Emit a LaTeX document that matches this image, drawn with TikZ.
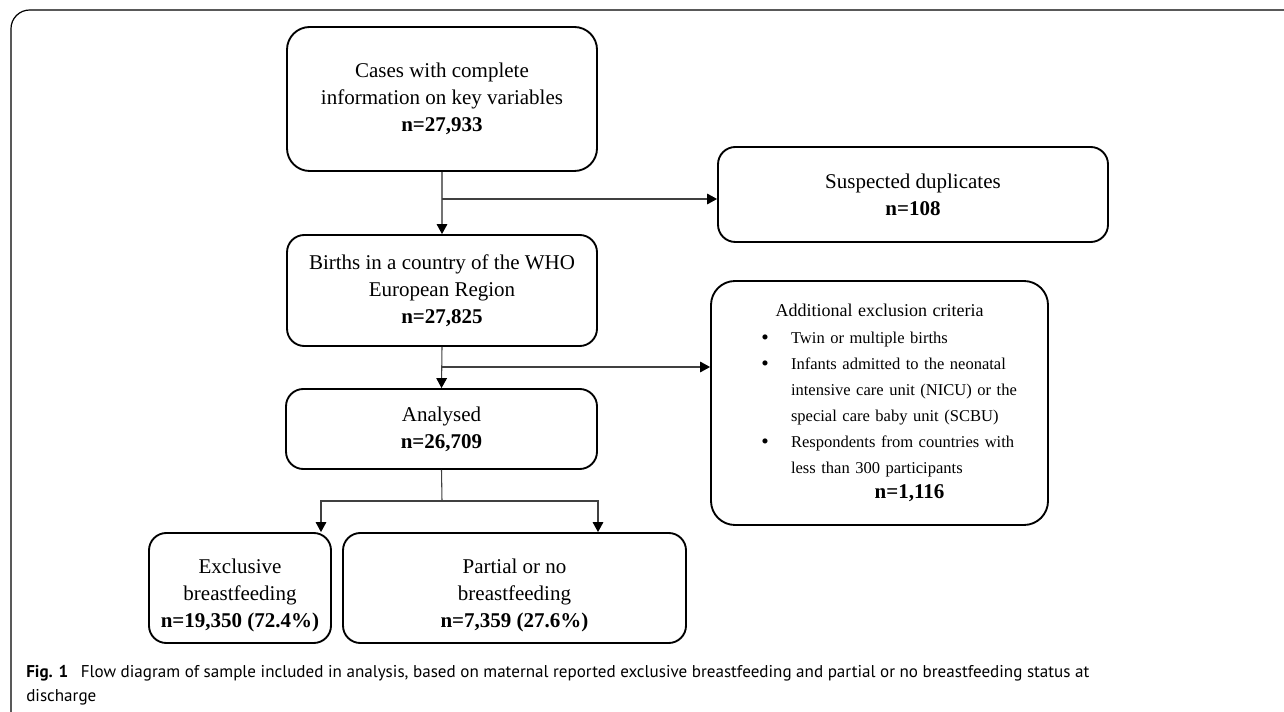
\documentclass[tikz,border=0pt]{standalone}
\usepackage{fontspec}
\setmainfont{Liberation Serif}
\newfontfamily\capfont{PT Sans}
\usetikzlibrary{arrows.meta}
\newcommand\mainsz{\fontsize{15.75}{20.25}\selectfont}
\newcommand\bitem{\makebox[60pt][l]{\hspace*{37.7pt}\raisebox{-0.8pt}{\fontsize{16}{0}\selectfont\textbullet}}}
\newcommand\lowstrut{\rule{0pt}{21.5pt}}
\begin{document}
\begin{tikzpicture}[x=0.75pt,y=-0.75pt,
  box/.style={draw, line width=1.4pt, rounded corners=13pt, align=center, inner sep=0pt, font=\mainsz},
  conn/.style={line width=0.8pt, draw=black!75},
  arr/.style={conn, -{Triangle[length=7.5pt,width=8pt,color=black,fill=black]}},
  frame/.style={line width=0.9pt, rounded corners=14pt}]
\useasboundingbox (0,0) rectangle (1284,712);
\draw[frame] (11,712) -- (11,10) -- (1284,10);

\node[box, rounded corners=17pt, minimum width=232.5pt, minimum height=108pt] (b1) at (442,99)
  {Cases with complete\\information on key variables\\\textbf{n=27,933}};
\node[box, minimum width=292.5pt, minimum height=71.25pt] (dup) at (913,194.5)
  {Suspected duplicates\\\textbf{n=108}};
\node[box, minimum width=232.5pt, minimum height=83.25pt] (b2) at (442,290.5)
  {Births in a country of the WHO\\European Region\\\textbf{n=27,825}};
\node[box, minimum width=233.25pt, minimum height=60pt] (an) at (441.5,429)
  {Analysed\\\textbf{n=26,709}};
\node[box, rounded corners=18pt, minimum width=252.75pt, minimum height=183pt, text width=252.75pt, align=left,
  font=\fontsize{12.4}{19.4}\selectfont] (addl) at (879.5,403)
  {\makebox[252.75pt][c]{\fontsize{13.5}{19.4}\selectfont Additional exclusion criteria}\\[1.2pt]
   \bitem Twin or multiple births\\
   \bitem Infants admitted to the neonatal\\
   \hspace*{60pt}intensive care unit (NICU) or the\\
   \hspace*{60pt}special care baby unit (SCBU)\\
   \bitem Respondents from countries with\\
   \hspace*{60pt}less than 300 participants\\
   \makebox[252.75pt][c]{\hspace*{45pt}\fontsize{15.75}{19.4}\selectfont\bfseries n=1,116}};
\node[box, minimum width=136.5pt, minimum height=82.5pt] (ex) at (240,588)
  {\lowstrut Exclusive\\breastfeeding\\\textbf{n=19,350 (72.4\%)}};
\node[box, minimum width=257.25pt, minimum height=82.5pt] (pa) at (514.5,588)
  {\lowstrut Partial or no\\breastfeeding\\\textbf{n=7,359 (27.6\%)}};

\draw[arr, draw=black!55] (b1.south) -- (b2.north);
\coordinate (j1) at (442,199);
\draw[arr] (j1) -- (j1 -| dup.west);
\draw[arr] (b2.south) -- (an.north);
\coordinate (j2) at (442,367);
\draw[arr] (j2) -- (j2 -| addl.west);
\coordinate (j3) at (442,501);
\draw[conn] (an.south) -- (j3);
\path (ex.north) ++(81,0) coordinate (exin);
\path (pa.north) ++(83.5,0) coordinate (pain);
\draw[arr] (j3) -| (exin);
\draw[arr] (j3) -| (pain);

\node[anchor=base west, align=left, inner sep=0pt, font=\capfont\fontsize{12.8}{18}\selectfont] (cap) at (26,701)
  {\textbf{Fig. 1}\hspace{6pt} Flow diagram of sample included in analysis, based on maternal reported exclusive breastfeeding and partial or no breastfeeding status at\\discharge};
\end{tikzpicture}
\end{document}
